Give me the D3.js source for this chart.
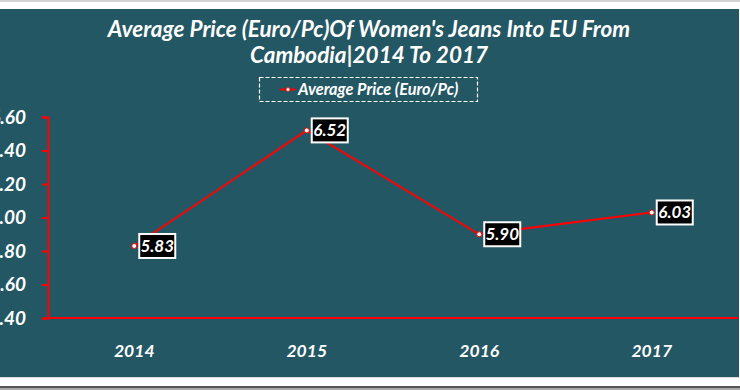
<!DOCTYPE html>
<html>
<head>
<meta charset="utf-8">
<script src="https://cdn.jsdelivr.net/npm/d3@7"></script>
<style>
  html, body { margin: 0; padding: 0; background: #ffffff; }
  svg { display: block; }
  text { font-family: Lato, "Open Sans", sans-serif; font-weight: bold; font-style: italic; fill: #ffffff; }
</style>
</head>
<body>
<svg id="chart" width="740" height="390"></svg>
<script>
// chart data
var years = ['2014', '2015', '2016', '2017'];
var prices = [5.83, 6.52, 5.90, 6.03];
var yTicks = [5.40, 5.60, 5.80, 6.00, 6.20, 6.40, 6.60];
var titleLines = ['Average Price (Euro/Pc)Of Women\'s Jeans Into EU From', 'Cambodia|2014 To 2017'];
var seriesName = 'Average Price (Euro/Pc)';

var svg = d3.select('#chart');
var W = 740, H = 390;
var red = '#ff0000';

// frame: gray strip top, teal panel, white strip + gray rule bottom
svg.append('rect').attr('x', 0).attr('y', 0).attr('width', W).attr('height', 2).attr('fill', '#d4d4d4');
svg.append('rect').attr('x', 0).attr('y', 9).attr('width', 739).attr('height', 368).attr('fill', '#235764');
svg.append('rect').attr('x', 0).attr('y', 377).attr('width', W).attr('height', 1).attr('fill', '#dcdcdc');
svg.append('rect').attr('x', 0).attr('y', 386).attr('width', W).attr('height', 2).attr('fill', '#555555');
svg.append('rect').attr('x', 0).attr('y', 388).attr('width', W).attr('height', 2).attr('fill', '#a8a8a8');

var plot = {left: 48, right: 738, top: 117, bottom: 318};

var x = d3.scalePoint().domain(years).range([plot.left, plot.right]).padding(0.5);
var y = d3.scaleLinear().domain([5.40, 6.60]).range([plot.bottom, plot.top]);

// title
svg.append('g').selectAll('text').data(titleLines).enter().append('text').
    attr('x', 369).
    attr('y', function(d, i) { return 37 + i * 26; }).
    attr('text-anchor', 'middle').
    style('font-size', '22.5px').
    text(function(d) { return d; });

// legend
var legend = svg.append('g');
legend.append('rect').attr('x', 259.5).attr('y', 77.5).attr('width', 218).attr('height', 24).
    attr('fill', 'none').attr('stroke', '#ffffff').attr('stroke-width', 1.2).attr('stroke-dasharray', '4,2');
legend.append('line').attr('x1', 280).attr('x2', 296).attr('y1', 89.5).attr('y2', 89.5).
    attr('stroke', red).attr('stroke-width', 2);
legend.append('circle').attr('cx', 288).attr('cy', 89.5).attr('r', 2).attr('fill', '#ffffff').attr('stroke', red).attr('stroke-width', 0.8);
legend.append('text').attr('x', 298).attr('y', 95).style('font-size', '16.3px').text(seriesName);

// y axis (labels are clipped by the left edge, as in the reference)
var yAxis = d3.axisLeft(y).tickValues(yTicks).tickFormat(d3.format('.2f')).tickSize(6).tickPadding(16);
var yg = svg.append('g').attr('transform', 'translate(' + plot.left + ',0)').call(yAxis);
yg.select('.domain').attr('stroke', red).attr('stroke-width', 2);
yg.selectAll('.tick line').attr('stroke', red).attr('stroke-width', 2);
yg.selectAll('.tick text').attr('fill', '#ffffff').style('font-size', '19px').attr('font-family', null);

// x axis line
svg.append('line').attr('x1', plot.left).attr('x2', plot.right).attr('y1', plot.bottom).attr('y2', plot.bottom).
    attr('stroke', red).attr('stroke-width', 2);

// x labels
svg.append('g').selectAll('text').data(years).enter().append('text').
    attr('x', function(d) { return x(d); }).
    attr('y', 357).
    attr('text-anchor', 'middle').
    style('font-size', '17.5px').
    text(function(d) { return d; });

// series line
var line = d3.line().x(function(d, i) { return x(years[i]); }).y(function(d) { return y(d); });
svg.append('path').datum(prices).attr('d', line).attr('fill', 'none').attr('stroke', red).attr('stroke-width', 2);

// data labels: black box with white border to the right of each point
var labels = svg.append('g').selectAll('g').data(prices).enter().append('g').
    attr('transform', function(d, i) { return 'translate(' + (x(years[i]) + 5) + ',' + y(d) + ')'; });
labels.append('rect').attr('x', 0).attr('y', -12).attr('width', 36).attr('height', 24).
    attr('fill', '#000000').attr('stroke', '#ffffff').attr('stroke-width', 2);
labels.append('text').attr('x', 18).attr('y', 6).attr('text-anchor', 'middle').style('font-size', '17px').
    text(function(d) { return d3.format('.2f')(d); });

// markers
svg.append('g').selectAll('circle').data(prices).enter().append('circle').
    attr('cx', function(d, i) { return x(years[i]); }).
    attr('cy', function(d) { return y(d); }).
    attr('r', 2.5).attr('fill', '#ffffff').attr('stroke', red).attr('stroke-width', 1);
</script>
</body>
</html>
